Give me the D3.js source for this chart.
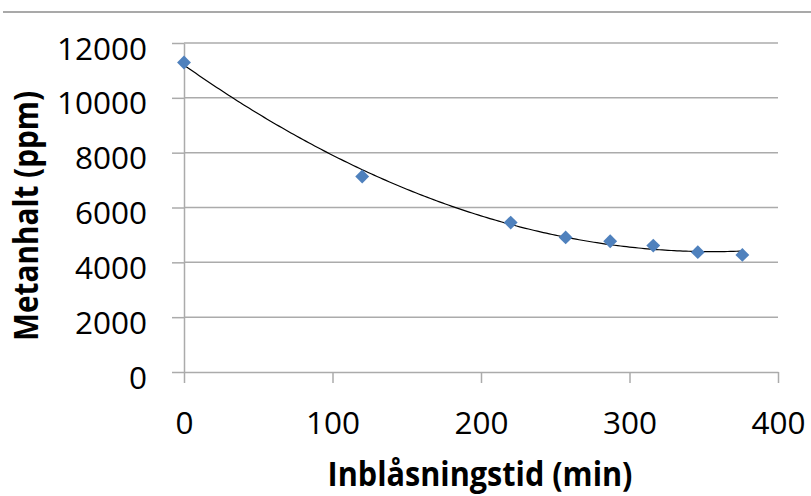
<!DOCTYPE html>
<html lang="sv">
<head>
<meta charset="UTF-8">
<title>Metanhalt</title>
<script src="https://cdnjs.cloudflare.com/ajax/libs/d3/7.8.5/d3.min.js"></script>
<style>
    body { margin: 0; background: #fff; overflow: hidden; }
    svg { display: block; }
    .tick text { font-family: "Open Sans", sans-serif; font-size: 31.5px; fill: #000; }
    .title { font-family: "Open Sans", sans-serif; font-weight: bold; font-size: 34px; fill: #000; }
</style>
</head>
<body>
<svg id="chart" width="811" height="496"></svg>
<script>
    // data
    const times = [0, 120, 220, 257, 287, 316, 346, 376];
    const methane = [11290, 7130, 5450, 4910, 4770, 4610, 4370, 4270];
    const xTicks = [0, 100, 200, 300, 400];
    const yTicks = [0, 2000, 4000, 6000, 8000, 10000, 12000];

    const svg = d3.select("#chart");
    const plotLeft = 184, plotRight = 778, plotTop = 43, plotBottom = 372;

    const x = d3.scaleLinear().domain([0, 400]).range([plotLeft, plotRight]);
    const y = d3.scaleLinear().domain([0, 12000]).range([plotBottom, plotTop]);

    // thin rule across the top of the picture
    svg.append("line")
        .attr("x1", 3).attr("x2", 811)
        .attr("y1", 12).attr("y2", 12)
        .attr("stroke", "#8c8c8c").attr("stroke-width", 1.5);

    // horizontal gridlines
    svg.append("g")
        .selectAll("line")
        .data(yTicks.filter(d => d > 0))
        .enter()
        .append("line")
        .attr("x1", plotLeft).attr("x2", plotRight)
        .attr("y1", d => y(d)).attr("y2", d => y(d))
        .attr("stroke", "#ababab").attr("stroke-width", 1.5);

    const yAxis = svg.append("g")
        .attr("transform", `translate(${plotLeft},0)`)
        .call(d3.axisLeft(y).tickValues(yTicks).tickSize(12).tickSizeOuter(0).tickFormat(d3.format("d")));

    const xAxis = svg.append("g")
        .attr("transform", `translate(0,${plotBottom})`)
        .call(d3.axisBottom(x).tickValues(xTicks).tickSize(11).tickSizeOuter(0));

    [yAxis, xAxis].forEach(a => {
        a.select(".domain").attr("stroke", "#ababab").attr("stroke-width", 1.5);
        a.selectAll(".tick line").attr("stroke", "#ababab").attr("stroke-width", 1.5);
    });
    // label placement as in the original (slightly below the gridlines)
    yAxis.selectAll(".tick text").attr("x", -37).attr("dy", 16);
    xAxis.selectAll(".tick text").attr("y", 62).attr("dy", 0);

    // quadratic trendline (least squares, as the spreadsheet does)
    function quadFit(xs, ys) {
        let s = [0, 0, 0, 0, 0], t = [0, 0, 0];
        xs.forEach((xi, i) => {
            for (let k = 0; k < 5; k++) s[k] += Math.pow(xi, k);
            for (let k = 0; k < 3; k++) t[k] += ys[i] * Math.pow(xi, k);
        });
        const m = [[s[0], s[1], s[2], t[0]], [s[1], s[2], s[3], t[1]], [s[2], s[3], s[4], t[2]]];
        for (let i = 0; i < 3; i++) {
            for (let j = i + 1; j < 3; j++) {
                const f = m[j][i] / m[i][i];
                for (let k = i; k < 4; k++) m[j][k] -= f * m[i][k];
            }
        }
        const c = [0, 0, 0];
        for (let i = 2; i >= 0; i--) {
            let v = m[i][3];
            for (let k = i + 1; k < 3; k++) v -= m[i][k] * c[k];
            c[i] = v / m[i][i];
        }
        return c;
    }
    const coef = quadFit(times, methane);
    const fitX = d3.range(0, d3.max(times) + 0.5, 2);
    svg.append("path")
        .datum(fitX)
        .attr("fill", "none")
        .attr("stroke", "#000")
        .attr("stroke-width", 1.2)
        .attr("d", d3.line().x(d => x(d)).y(d => y(coef[0] + coef[1] * d + coef[2] * d * d)));

    // diamond markers
    svg.append("g")
        .selectAll("path")
        .data(times)
        .enter()
        .append("path")
        .attr("transform", (d, i) => `translate(${x(d)},${y(methane[i])}) rotate(45)`)
        .attr("d", d3.symbol().type(d3.symbolSquare).size(96))
        .attr("fill", "#4f81bd");

    // axis titles (squeezed a little, the original font is narrow)
    svg.append("text")
        .attr("class", "title")
        .attr("x", 480).attr("y", 486)
        .attr("text-anchor", "middle")
        .attr("textLength", 305)
        .attr("lengthAdjust", "spacingAndGlyphs")
        .text("Inblåsningstid (min)");

    svg.append("text")
        .attr("class", "title")
        .attr("transform", "translate(38,216) rotate(-90)")
        .attr("text-anchor", "middle")
        .attr("textLength", 250)
        .attr("lengthAdjust", "spacingAndGlyphs")
        .text("Metanhalt (ppm)");
</script>
</body>
</html>
